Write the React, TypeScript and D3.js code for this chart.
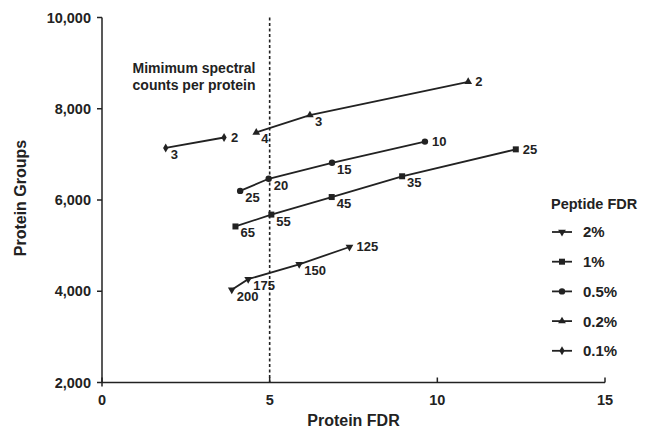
import React from 'react';
import * as d3 from 'd3';

// values
const seriesNames = ['2%', '1%', '0.5%', '0.2%', '0.1%'];
const seriesShapes = ['triDown', 'square', 'circle', 'triUp', 'diamond'];

const fdr2 = [3.87, 4.36, 5.88, 7.38];
const groups2 = [4035, 4265, 4590, 4970];
const counts2 = [200, 175, 150, 125];

const fdr1 = [3.98, 5.05, 6.85, 8.95, 12.34];
const groups1 = [5420, 5680, 6065, 6520, 7110];
const counts1 = [65, 55, 45, 35, 25];

const fdr05 = [4.12, 4.97, 6.86, 9.63];
const groups05 = [6200, 6465, 6815, 7280];
const counts05 = [25, 20, 15, 10];

const fdr02 = [4.6, 6.2, 10.92];
const groups02 = [7480, 7860, 8590];
const counts02 = [4, 3, 2];

const fdr01 = [1.9, 3.64];
const groups01 = [7140, 7370];
const counts01 = [3, 2];

const xTicks = [0, 5, 10, 15];
const yTicks = [2000, 4000, 6000, 8000, 10000];
const fdrCutoff = 5;

const allFdr = [fdr2, fdr1, fdr05, fdr02, fdr01];
const allGroups = [groups2, groups1, groups05, groups02, groups01];
const allCounts = [counts2, counts1, counts05, counts02, counts01];

const font = '"Liberation Sans", Arial, sans-serif';
const ink = '#222';

function marker(shape: string, x: number, y: number, key: string) {
    if (shape === 'square') {
        return <rect key={key} x={x - 3} y={y - 3} width={6} height={6} fill={ink} />;
    }
    if (shape === 'circle') {
        return <circle key={key} cx={x} cy={y} r={3.2} fill={ink} />;
    }
    let sym = d3.symbolTriangle;
    let rot = 0;
    if (shape === 'triDown') rot = 180;
    if (shape === 'diamond') sym = d3.symbolDiamond;
    const size = shape === 'diamond' ? 24 : 26;
    const path = d3.symbol().type(sym).size(size)();
    return (
        <path key={key} d={path || ''} fill={ink}
            transform={'translate(' + x + ',' + y + ') rotate(' + rot + ')'} />
    );
}

export default function App() {
    const x = d3.scaleLinear().domain([0, 15]).range([102, 605]);
    const y = d3.scaleLinear().domain([2000, 10000]).range([382.5, 17.5]);

    const line = d3.line<[number, number]>()
        .x(d => x(d[0]))
        .y(d => y(d[1]));

    return (
        <svg width={656} height={436} style={{ position: 'absolute', left: 0, top: 0, background: '#fff' }}
            fontFamily={font} fontWeight="bold">
            {/* cutoff line */}
            <line x1={x(fdrCutoff)} x2={x(fdrCutoff)} y1={y(10000)} y2={y(2000)}
                stroke={ink} strokeWidth={1.6} strokeDasharray="3,2.5" />

            {/* axes */}
            <line x1={x(0)} x2={x(0)} y1={y(10000)} y2={y(2000) + 4} stroke={ink} strokeWidth={1.5} />
            <line x1={x(0)} x2={x(15)} y1={y(2000)} y2={y(2000)} stroke={ink} strokeWidth={1.5} />
            {yTicks.map(t => (
                <g key={'y' + t}>
                    <line x1={x(0) - 5} x2={x(0)} y1={y(t)} y2={y(t)} stroke={ink} strokeWidth={1.5} />
                    <text x={x(0) - 11} y={y(t)} dy="0.35em" textAnchor="end" fontSize={14.5} fill={ink}>
                        {d3.format(',')(t)}
                    </text>
                </g>
            ))}
            {xTicks.map(t => (
                <g key={'x' + t}>
                    <line x1={x(t)} x2={x(t)} y1={y(2000)} y2={y(2000) - 5} stroke={ink} strokeWidth={1.5} />
                    <text x={x(t)} y={405} textAnchor="middle" fontSize={14.5} fill={ink}>{t}</text>
                </g>
            ))}
            <text x={353.5} y={426} textAnchor="middle" fontSize={16} fill={ink}>Protein FDR</text>
            <text transform="translate(26,198) rotate(-90)" textAnchor="middle" fontSize={16} fill={ink}>
                Protein Groups
            </text>

            {/* annotation */}
            <text x={194} y={73} textAnchor="middle" fontSize={14} fill={ink}>Mimimum spectral</text>
            <text x={194} y={90} textAnchor="middle" fontSize={14} fill={ink}>counts per protein</text>

            {/* series */}
            {seriesNames.map((name, i) => {
                const pts = allFdr[i].map((f, j) => [f, allGroups[i][j]] as [number, number]);
                const last = pts.length - 1;
                return (
                    <g key={name}>
                        <path d={line(pts) || ''} fill="none" stroke={ink} strokeWidth={1.8} />
                        {pts.map((p, j) => marker(seriesShapes[i], x(p[0]), y(p[1]), name + j))}
                        {pts.map((p, j) => (
                            <text key={'l' + name + j}
                                x={x(p[0]) + (j === last ? 7 : 5)}
                                y={y(p[1]) + (j === last ? 4.5 : 11)}
                                fontSize={13} fill={ink}>
                                {allCounts[i][j]}
                            </text>
                        ))}
                    </g>
                );
            })}

            {/* legend */}
            <text x={551} y={209} fontSize={14.5} fill={ink}>Peptide FDR</text>
            {seriesNames.map((name, i) => {
                const ly = 232 + i * 29.7;
                return (
                    <g key={'lg' + name}>
                        <line x1={552} x2={572} y1={ly} y2={ly} stroke={ink} strokeWidth={1.8} />
                        {marker(seriesShapes[i], 562, ly, 'lm' + i)}
                        <text x={583} y={ly} dy="0.36em" fontSize={15} fill={ink}>{name}</text>
                    </g>
                );
            })}
        </svg>
    );
}
